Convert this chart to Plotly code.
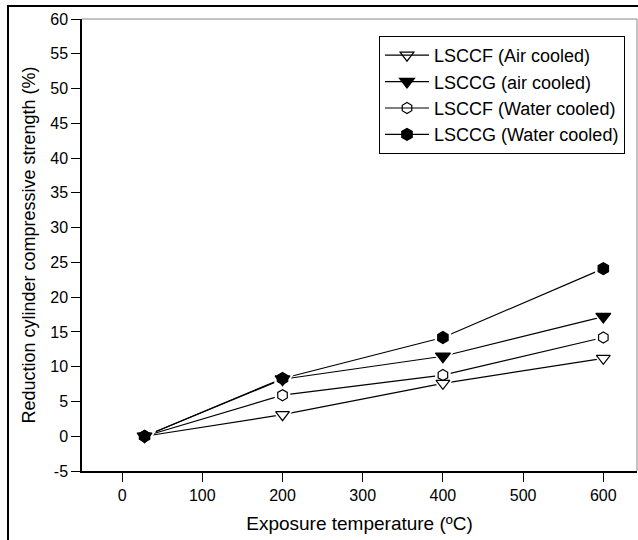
import plotly.graph_objects as go

temps = [28, 200, 400, 600]
lsccf_air = [0.0, 3.1, 7.6, 11.2]
lsccg_air = [0.0, 8.2, 11.5, 17.2]
lsccf_water = [0.0, 5.9, 8.8, 14.2]
lsccg_water = [0.0, 8.3, 14.2, 24.1]
names = ["LSCCF (Air cooled)", "LSCCG (air cooled)", "LSCCF (Water cooled)", "LSCCG (Water cooled)"]
y_ticks = list(range(-5, 61, 5))
y_labels = [str(v) for v in y_ticks]
x_ticks = list(range(0, 601, 100))

W, H = 638, 540
L, R, T, B = 82, 637, 19, 471.5

def px(x):
    return (x - L) / (R - L)

def py(y):
    return (B - y) / (B - T)

fig = go.Figure()
series = [lsccf_air, lsccg_air, lsccf_water, lsccg_water]
symbols = ["triangle-down-open", "triangle-down", "hexagon-open", "hexagon"]
solid = ["triangle-down", "triangle-down", "hexagon", "hexagon"]
sizes = [12, 13, 11, 12]

# lines
for ys in series:
    fig.add_trace(go.Scatter(x=temps, y=ys, mode="lines", showlegend=False,
                             line=dict(color="black", width=1.2), hoverinfo="skip"))
# white halos for gaps
for ys, sym, sz in zip(series, solid, sizes):
    fig.add_trace(go.Scatter(x=temps, y=ys, mode="markers", showlegend=False, hoverinfo="skip",
                             marker=dict(symbol=sym, size=sz + 7, color="white", line=dict(width=0))))
# markers
for name, ys, sym, sz in zip(names, series, symbols, sizes):
    fig.add_trace(go.Scatter(x=temps, y=ys, mode="markers", name=name, showlegend=False,
                             marker=dict(symbol=sym, size=sz, color="black",
                                         line=dict(color="black", width=1.2))))
# legend entries
for name, sym, sz in zip(names, symbols, sizes):
    fig.add_trace(go.Scatter(x=[None], y=[None], mode="lines+markers", name=name,
                             line=dict(color="black", width=1.2),
                             marker=dict(symbol=sym, size=sz, color="black",
                                         line=dict(color="black", width=1.2))))

fig.update_layout(
    width=W, height=H,
    margin=dict(l=L, r=W - R, t=T, b=H - B),
    paper_bgcolor="white", plot_bgcolor="white",
    font=dict(family="Liberation Sans, Arial, sans-serif", color="black"),
    showlegend=True,
    legend=dict(
        x=px(625), y=py(36), xanchor="right", yanchor="top",
        bgcolor="white", bordercolor="black", borderwidth=1,
        font=dict(size=18, color="black"), tracegroupgap=0, itemwidth=44,
    ),
    xaxis=dict(
        range=[-50, 642], tickvals=x_ticks, ticks="outside", ticklen=9,
        tickcolor="black", showline=True, linecolor="black", linewidth=1.5,
        showgrid=False, zeroline=False, tickfont=dict(size=16),
        title=dict(text="Exposure temperature (ºC)", font=dict(size=19), standoff=14),
    ),
    yaxis=dict(
        range=[-5, 60], tickvals=y_ticks, ticktext=y_labels, ticks="outside", ticklen=9,
        tickcolor="black", showline=True, linecolor="black", linewidth=1.5,
        showgrid=False, zeroline=False, tickfont=dict(size=16),
        title=dict(text="Reduction cylinder compressive strength (%)", font=dict(size=18), standoff=10),
    ),
    shapes=[
        dict(type="line", xref="paper", yref="paper", x0=0, x1=1, y0=1, y1=1,
             line=dict(color="#888888", width=1)),
        dict(type="line", xref="paper", yref="paper", x0=1, x1=1, y0=0, y1=1,
             line=dict(color="#888888", width=1)),
        dict(type="rect", xref="paper", yref="paper", x0=px(8), x1=px(645), y0=py(6), y1=py(548),
             line=dict(color="black", width=2), fillcolor="rgba(0,0,0,0)"),
    ],
)

fig.write_html("out.html")
